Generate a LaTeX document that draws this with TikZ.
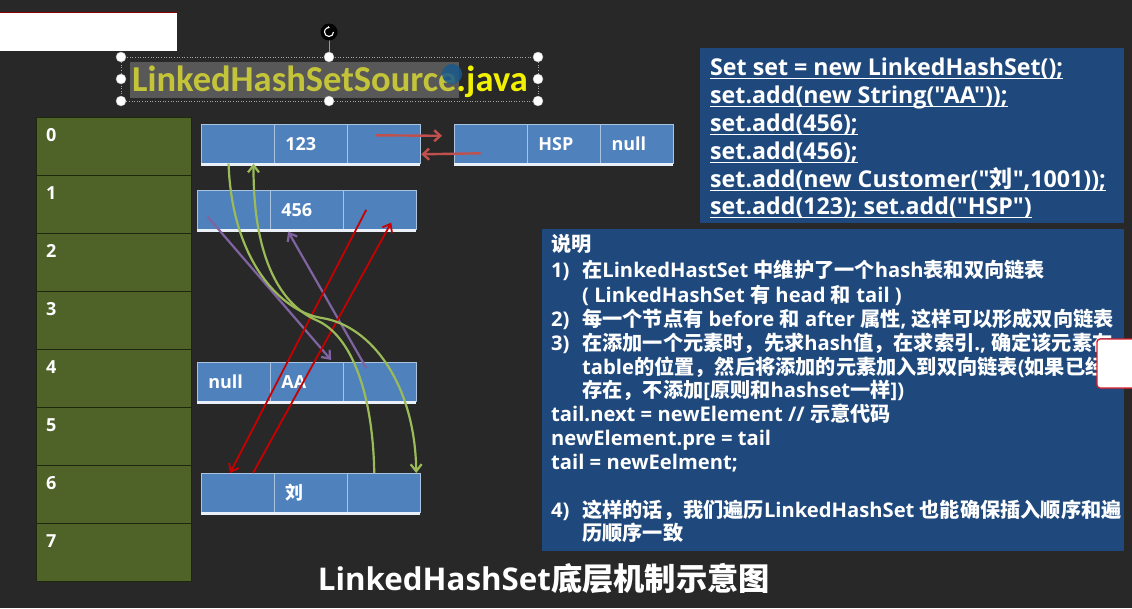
\documentclass[tikz,border=0pt]{standalone}
\usepackage{fontspec}
\setmainfont{Open Sans}[Ligatures=TeXOff]
\newfontfamily\cjkfont{Noto Sans CJK SC}
\newfontfamily\titlefont{Carlito}
\usetikzlibrary{arrows.meta}

\XeTeXinterchartokenstate=1
\chardef\cjkcls=250
\newcount\cjkc
\newcommand\setcjkrange[2]{\cjkc=#1\relax
  \loop\XeTeXcharclass\cjkc=\cjkcls\relax
  \advance\cjkc by 1\relax
  \ifnum\cjkc<#2\relax\repeat}
\setcjkrange{"3000}{"3040}
\setcjkrange{"4E00}{"A000}
\setcjkrange{"FF00}{"FFF0}
\XeTeXinterchartoks 0 250 = {\cjkfont}
\XeTeXinterchartoks 1 250 = {\cjkfont}
\XeTeXinterchartoks 2 250 = {\cjkfont}
\XeTeXinterchartoks 3 250 = {\cjkfont}
\XeTeXinterchartoks 4095 250 = {\cjkfont}
\XeTeXinterchartoks 250 0 = {\rmfamily}
\XeTeXinterchartoks 250 1 = {\rmfamily}
\XeTeXinterchartoks 250 2 = {\rmfamily}
\XeTeXinterchartoks 250 3 = {\rmfamily}
\XeTeXinterchartoks 250 4095 = {\rmfamily}

\definecolor{bg}{RGB}{40,40,40}
\definecolor{olive}{RGB}{79,98,40}
\definecolor{tline}{RGB}{30,40,15}
\definecolor{nodeblue}{RGB}{79,129,189}
\definecolor{cellline}{RGB}{170,195,225}
\definecolor{boxblue}{RGB}{31,73,125}
\definecolor{agreen}{RGB}{155,187,89}
\definecolor{apurple}{RGB}{128,100,162}
\definecolor{ared}{RGB}{200,0,0}
\definecolor{lred}{RGB}{192,80,77}
\definecolor{hlyellow}{RGB}{196,196,58}
\definecolor{javayellow}{RGB}{240,240,0}
\definecolor{hlgrey}{RGB}{88,88,88}
\definecolor{curblue}{RGB}{25,90,140}
\definecolor{popred}{RGB}{220,30,40}

\newcommand\listnode[6]{%
  \node[cell] (#1a) at (#2,#3) {#4};
  \node[cell] (#1b) at (#1a.north east) {#5};
  \node[cell] (#1c) at (#1b.north east) {#6};
  \draw[shadowline] ([yshift=-1pt]#1a.south west) -- ([yshift=-1pt]#1c.south east);
}

\tikzset{
  tcell/.style={draw=tline, line width=0.8pt, fill=olive, minimum width=155pt, minimum height=58pt, inner sep=0pt, anchor=north west},
  digit/.style={anchor=north west, inner sep=0pt, text=white, font=\bfseries\fontsize{18}{20}\selectfont},
  cell/.style={draw=cellline, line width=0.6pt, fill=nodeblue, minimum height=39pt, minimum width=72.5pt, text width=50.5pt, inner xsep=11pt, inner ysep=0pt, align=left, anchor=north west, text=white, font=\bfseries\fontsize{18}{20}\selectfont},
  shadowline/.style={draw=white!88!nodeblue, line width=2.5pt},
  garrow/.style={draw=agreen, line width=2.2pt, -{Straight Barb[length=7pt,width=11pt]}},
  parrow/.style={draw=apurple, line width=2.2pt, -{Straight Barb[length=7pt,width=11pt]}},
  rarrow/.style={draw=ared, line width=1.8pt, -{Straight Barb[length=7pt,width=11pt]}},
  larrow/.style={draw=lred, line width=2.4pt, -{Straight Barb[length=6pt,width=11pt]}},
  code/.style={anchor=base west, inner sep=0pt, text=white, font=\bfseries\fontsize{23.2}{26}\selectfont},
  uline/.style={draw=white, line width=1.2pt},
  expl/.style={anchor=base west, inner sep=0pt, text=white, font=\bfseries\fontsize{20.2}{22}\selectfont},
  handle/.style={fill=white, draw=gray!60, line width=0.4pt},
}

\begin{document}
\begin{tikzpicture}[x=1pt, y=-1pt]
\useasboundingbox (0,0) rectangle (1132,608);
\clip (0,0) rectangle (1132,608);
\fill[bg] (0,0) rectangle (1132,608);

% top-left white box
\fill[white] (0,12) rectangle (177,51);
\draw[ared!70!black, line width=0.8pt] (0,12.4) -- (177,12.4);

% title with highlight
\fill[hlgrey] (130,62) rectangle (459,98);
\node[anchor=base west, inner sep=0pt, font=\titlefont\bfseries\fontsize{36.5}{40}\selectfont] (title) at (132,91)
  {\textcolor{hlyellow}{LinkedHashSetSource}\textcolor{javayellow}{.java}};
\fill[curblue, opacity=0.85] (452,74) circle (10pt);

% selection frame and handles
\draw[gray!70, dotted, line width=0.6pt] (121,57) rectangle (538,101);
\draw[gray!80, line width=0.8pt] (329,40) -- (329,57);
\fill[black] (329,32) circle (8.5pt);
\draw[white, line width=1.1pt, -{Stealth[length=2.2pt,width=3pt]}] (333.5,32) arc[start angle=0, end angle=280, radius=4.5];
\foreach \hx/\hy in {121/57, 329/57, 538/57, 121/79, 538/79, 121/101, 329/101, 538/101}
  \filldraw[handle] (\hx,\hy) circle (5pt);

% hash table
\foreach \i in {0,...,7}{
  \node[tcell] (t\i) at (36,117+58*\i) {};
  \node[digit] (d\i) at ([xshift=10pt,yshift=-11pt]t\i.north west) {\i};
}

% list nodes
\listnode{n123}{201}{124}{}{123}{}
\listnode{nhsp}{454}{124}{}{HSP}{null}
\listnode{n456}{197}{190}{}{456}{}
\listnode{naa}{197}{362}{null}{AA}{}
\listnode{nliu}{201}{473}{}{刘}{}

% arrows between 123 and HSP
\draw[larrow] ([xshift=-8pt,yshift=8.5pt]n123c.center) -- ([xshift=-12pt,yshift=8pt]nhspa.west);
\draw[larrow] ([xshift=-10pt,yshift=-9.5pt]nhspa.center) -- ([xshift=1pt,yshift=-10.5pt]n123c.east);

% purple arrows (AA <-> 456)
\draw[parrow] ([xshift=-26pt,yshift=13pt]n456a.south) -- ([xshift=24.5pt,yshift=2pt]naab.north);
\draw[parrow] ([xshift=-13.5pt,yshift=-6pt]naac.north) -- ([xshift=-18.5pt,yshift=-2pt]n456b.south);

% red arrows (456 <-> liu)
\draw[rarrow] ([xshift=-13.5pt]n456c.center) -- ([xshift=-7.5pt]nliua.north);
\draw[rarrow] ([xshift=15.5pt]nliua.north) -- ([xshift=11.5pt,yshift=7pt]n456c.south);

% green arrows (liu <-> 123)
\draw[garrow] ([xshift=-9pt]n123a.south) .. controls (232,262) and (282,312) .. (322,318)
  .. controls (372,326) and (415,385) .. ([xshift=32.5pt]nliuc.north);
\draw[garrow] ([xshift=-9.5pt]nliuc.north) .. controls (373,395) and (352,335) .. (316,320)
  .. controls (276,302) and (253,250) .. ([xshift=16pt]n123a.south);

% code box
\fill[boxblue] (700,48) rectangle (1124,223);
\node[code] (c1) at (710,75) {Set set = new LinkedHashSet();};
\node[code] (c2) at (710,103) {set.add(new String("AA"));};
\node[code] (c3) at (710,131) {set.add(456);};
\node[code] (c4) at (710,159) {set.add(456);};
\node[code] (c5) at (710,187) {set.add(new Customer("刘",1001));};
\node[code] (c6) at (710,214) {set.add(123); set.add("HSP")};
\foreach \c in {c1,c2,c3,c4,c5,c6}
  \draw[uline] ([yshift=-3.5pt]\c.base west) -- ([yshift=-3.5pt]\c.base east);

% explanation box
\fill[boxblue] (542,229) rectangle (1124,551);
\begin{scope}
\clip (542,229) rectangle (1124,551);
\node[expl] (e0) at (551,251) {说明};
\node[expl] (e1) at (551,277) {\makebox[31pt][l]{1)}在LinkedHastSet 中维护了一个hash表和双向链表};
\node[expl] (e2) at (582,302) {( LinkedHashSet 有 head 和 tail )};
\node[expl] (e3) at (551,326) {\makebox[31pt][l]{2)}每一个节点有 before 和 after 属性, 这样可以形成双向链表};
\node[expl] (e4) at (551,350) {\makebox[31pt][l]{3)}在添加一个元素时，先求hash值，在求索引., 确定该元素在};
\node[expl] (e5) at (582,374) {table的位置，然后将添加的元素加入到双向链表(如果已经};
\node[expl] (e6) at (582,397) {存在，不添加[原则和hashset一样])};
\node[expl] (e7) at (551,421) {tail.next = newElement // 示意代码};
\node[expl] (e8) at (551,445) {newElement.pre = tail};
\node[expl] (e9) at (551,469) {tail = newEelment;};
\node[expl] (e10) at (551,517) {\makebox[31pt][l]{4)}这样的话，我们遍历LinkedHashSet 也能确保插入顺序和遍};
\node[expl] (e11) at (582,540) {历顺序一致};
\end{scope}

% popup box at right edge
\filldraw[fill=white, draw=popred, line width=1.4pt, rounded corners=3pt] (1097,339) rectangle (1140,388);

% bottom title
\node[anchor=base, inner sep=0pt, text=white, font=\bfseries\fontsize{31.3}{36}\selectfont] (btitle) at (544,590)
  {LinkedHashSet底层机制示意图};
\end{tikzpicture}
\end{document}
